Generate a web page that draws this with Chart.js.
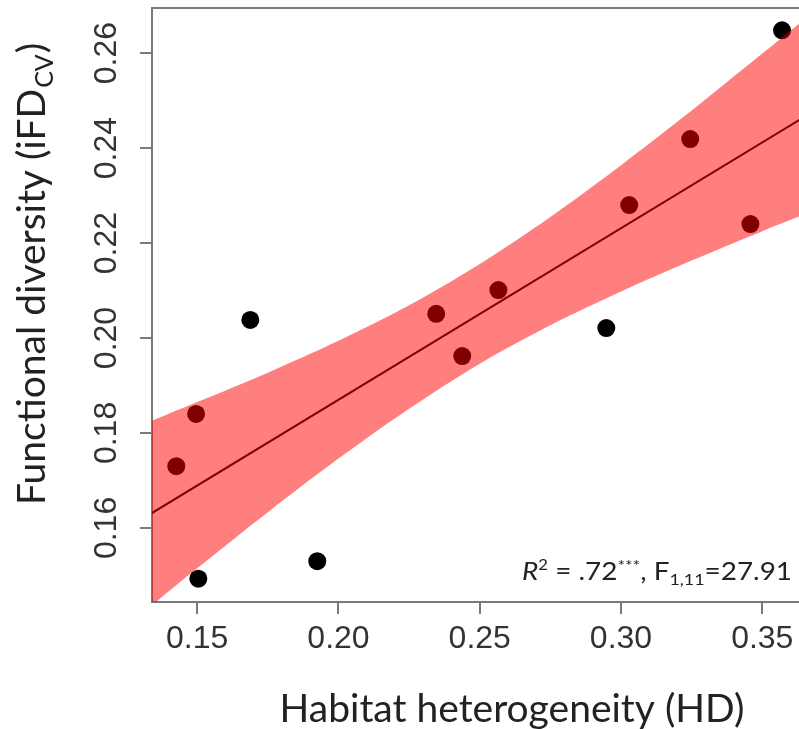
<!DOCTYPE html>
<html><head><meta charset="utf-8">
<script src="https://cdn.jsdelivr.net/npm/chart.js@4.4.1/dist/chart.umd.min.js"></script>
<style>html,body{margin:0;padding:0;background:#fff;overflow:hidden}#wrap{width:799px;height:729px;position:relative}</style>
</head><body><div id="wrap"><canvas id="c" width="799" height="729"></canvas></div>
<script>
// Observed sites
const habitatHD    = [0.1426, 0.1496, 0.1504, 0.1688, 0.1925, 0.2346, 0.2438, 0.2566, 0.2948, 0.3029, 0.3245, 0.3458, 0.3570];
const functionalFD = [0.1730, 0.1840, 0.1493, 0.2038, 0.1530, 0.2051, 0.1962, 0.2101, 0.2021, 0.2280, 0.2419, 0.2240, 0.2648];
// Regression line (read at the plot edges)
const fitX = [0.13, 0.37];
const fitY = [0.1617, 0.2484];
// Confidence band edges
const bandX     = [0.13,   0.15,   0.175,  0.20,   0.225,  0.25,   0.275,  0.30,   0.325,  0.35,   0.37];
const bandUpper = [0.1816, 0.1865, 0.1927, 0.1994, 0.2069, 0.2156, 0.2255, 0.2364, 0.2479, 0.2599, 0.2696];
const bandLower = [0.1418, 0.1515, 0.1633, 0.1746, 0.1851, 0.1946, 0.2027, 0.2098, 0.2163, 0.2225, 0.2272];
// Ticks and labels
const xTicks = [0.15, 0.20, 0.25, 0.30, 0.35];
const yTicks = [0.16, 0.18, 0.20, 0.22, 0.24, 0.26];
const xTitle = 'Habitat heterogeneity (HD)';
const yTitleParts = ['Functional diversity (iFD', 'CV', ')'];
const statParts = [
  {t:'R', f:'italic 25px Lato', dy:0},
  {t:'2', f:'15px Lato', dy:-10},
  {t:' = .72', f:'25px Lato', dy:0},
  {t:'***', f:'16px Lato', dy:-9},
  {t:', F', f:'25px Lato', dy:0},
  {t:'1,11', f:'16px Lato', dy:5},
  {t:'=27.91', f:'25px Lato', dy:0}
];

const pts = (xs, ys) => xs.map((x, i) => ({x: x, y: ys[i]}));
const AXIS = '#7a7a7a';

const decor = {
  id: 'decor',
  afterDraw(chart) {
    const ctx = chart.ctx, a = chart.chartArea;
    ctx.save();
    // top frame line
    ctx.strokeStyle = AXIS; ctx.lineWidth = 2;
    ctx.beginPath(); ctx.moveTo(a.left - 1, a.top); ctx.lineTo(a.right, a.top); ctx.stroke();
    // x title
    ctx.fillStyle = '#222';
    ctx.font = '39px Lato';
    ctx.textAlign = 'center'; ctx.textBaseline = 'alphabetic';
    ctx.fillText(xTitle, 512, 722);
    // y title (rotated, with subscript)
    ctx.save();
    ctx.translate(45, 505);
    ctx.rotate(-Math.PI / 2);
    ctx.textAlign = 'left';
    let px = 0;
    ctx.font = '39px Lato';
    ctx.fillText(yTitleParts[0], px, 0); px += ctx.measureText(yTitleParts[0]).width;
    ctx.font = '25px Lato';
    ctx.fillText(yTitleParts[1], px + 1, 8); px += ctx.measureText(yTitleParts[1]).width + 2;
    ctx.font = '39px Lato';
    ctx.fillText(yTitleParts[2], px, 0);
    ctx.restore();
    // stats annotation, spanning x 522..792
    let total = 0;
    statParts.forEach(p => { ctx.font = p.f; total += ctx.measureText(p.t).width; });
    ctx.save();
    ctx.translate(522, 580);
    ctx.scale(270 / total, 1);
    let sx = 0;
    ctx.fillStyle = '#222'; ctx.textAlign = 'left';
    statParts.forEach(p => { ctx.font = p.f; ctx.fillText(p.t, sx, p.dy); sx += ctx.measureText(p.t).width; });
    ctx.restore();
    ctx.restore();
  }
};

const zeroPad = s => { s.paddingLeft = 0; s.paddingRight = 0; s.paddingTop = 0; s.paddingBottom = 0; };

new Chart(document.getElementById('c'), {
  type: 'scatter',
  data: {
    datasets: [
      {label: 'upper', type: 'line', data: pts(bandX, bandUpper), fill: '+1',
       backgroundColor: 'rgba(255,0,0,0.5)', borderColor: 'rgba(0,0,0,0)', borderWidth: 0,
       pointRadius: 0, tension: 0.3, order: 0},
      {label: 'lower', type: 'line', data: pts(bandX, bandLower), fill: false,
       borderColor: 'rgba(0,0,0,0)', borderWidth: 0, pointRadius: 0, tension: 0.3, order: 0},
      {label: 'sites', data: pts(habitatHD, functionalFD), backgroundColor: '#000',
       borderColor: '#000', borderWidth: 0, pointRadius: 9, order: 1},
      {label: 'fit', type: 'line', data: pts(fitX, fitY), borderColor: '#000', borderWidth: 2,
       pointRadius: 0, fill: false, order: 2}
    ]
  },
  options: {
    responsive: false, animation: false,
    layout: {autoPadding: false, padding: {top: 8, right: 0, left: 0, bottom: 0}},
    plugins: {legend: {display: false}, tooltip: {enabled: false}},
    scales: {
      x: {
        type: 'linear', min: 0.134, max: 0.363,
        afterBuildTicks: s => { s.ticks = xTicks.map(v => ({value: v})); },
        afterFit: s => { s.height = 127; zeroPad(s); },
        grid: {display: true, drawOnChartArea: false, drawTicks: true, tickLength: 12, color: AXIS, lineWidth: 2},
        border: {display: true, color: AXIS, width: 2},
        ticks: {font: {family: 'Liberation Sans', size: 32}, color: '#333', padding: 6,
                maxRotation: 0, minRotation: 0, autoSkip: false, callback: v => v.toFixed(2)}
      },
      y: {
        type: 'linear', min: 0.1444, max: 0.2695,
        afterBuildTicks: s => { s.ticks = yTicks.map(v => ({value: v})); },
        afterFit: s => { s.width = 152; zeroPad(s); },
        grid: {display: true, drawOnChartArea: false, drawTicks: true, tickLength: 12, color: AXIS, lineWidth: 2},
        border: {display: true, color: AXIS, width: 2},
        ticks: {font: {family: 'Liberation Sans', size: 32}, color: '#333', padding: 2,
                minRotation: 90, maxRotation: 90, crossAlign: 'center', autoSkip: false,
                callback: v => v.toFixed(2)}
      }
    }
  },
  plugins: [decor]
});
</script>
</body></html>
